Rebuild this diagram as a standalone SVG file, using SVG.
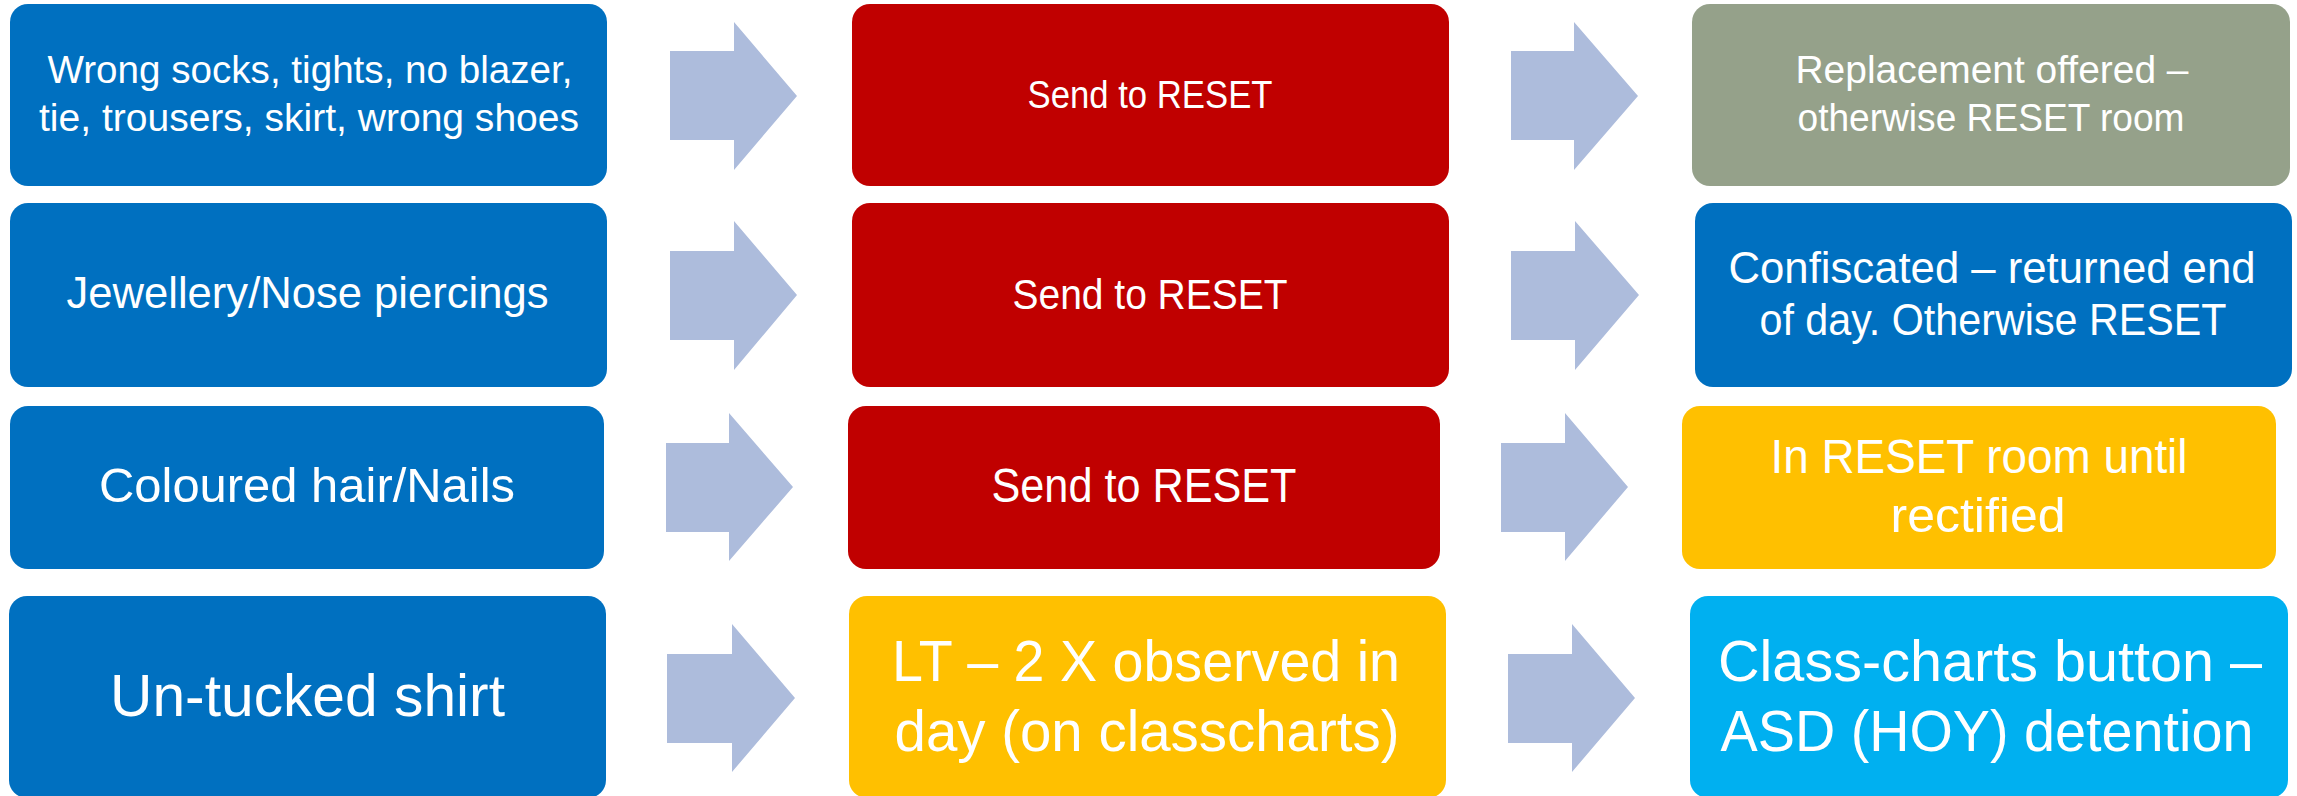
<svg xmlns="http://www.w3.org/2000/svg" width="2297" height="796" viewBox="0 0 2297 796">
<style>
.t{fill:#FFFFFF;font-family:"Liberation Sans",Arial,sans-serif;text-anchor:middle}
.blue{fill:#0070C0}
.red{fill:#C00000}
.gray{fill:#95A18A}
.yellow{fill:#FFC000}
.cyan{fill:#00B0F0}
.arrow{fill:#ADBCDC}
</style>
<rect width="2297" height="796" fill="#FFFFFF"/>
<g id="connectors">
<polygon class="arrow" points="670,51 734,51 734,22 797,96 734,170 734,140 670,140"/>
<polygon class="arrow" points="670,251 734,251 734,221 797,295 734,370 734,340 670,340"/>
<polygon class="arrow" points="1511,51 1574,51 1574,22 1638,96 1574,170 1574,140 1511,140"/>
<polygon class="arrow" points="1511,251 1575,251 1575,221 1639,295 1575,370 1575,340 1511,340"/>
<polygon class="arrow" points="666,443 729,443 729,413 793,487 729,561 729,532 666,532"/>
<polygon class="arrow" points="667,654 732,654 732,624 795,698 732,772 732,743 667,743"/>
<polygon class="arrow" points="1501,443 1565,443 1565,413 1628,487 1565,561 1565,532 1501,532"/>
<polygon class="arrow" points="1508,654 1572,654 1572,624 1635,698 1572,772 1572,743 1508,743"/>
</g>
<g id="n-socks">
<rect class="blue" x="10" y="4" width="597" height="182" rx="18"/>
<text class="t" x="310" y="83" font-size="38" textLength="525" lengthAdjust="spacingAndGlyphs">Wrong socks, tights, no blazer,</text>
<text class="t" x="309" y="131" font-size="38" textLength="540" lengthAdjust="spacingAndGlyphs">tie, trousers, skirt, wrong shoes</text>
</g>
<g id="n-jewellery">
<rect class="blue" x="10" y="203" width="597" height="184" rx="18"/>
<text class="t" x="307.5" y="308" font-size="45" textLength="482" lengthAdjust="spacingAndGlyphs">Jewellery/Nose piercings</text>
</g>
<g id="n-hair">
<rect class="blue" x="10" y="406" width="594" height="163" rx="18"/>
<text class="t" x="307" y="502" font-size="49" textLength="416" lengthAdjust="spacingAndGlyphs">Coloured hair/Nails</text>
</g>
<g id="n-shirt">
<rect class="blue" x="9" y="596" width="597" height="202" rx="18"/>
<text class="t" x="307.5" y="716" font-size="59" textLength="395" lengthAdjust="spacingAndGlyphs">Un-tucked shirt</text>
</g>
<g id="n-reset1">
<rect class="red" x="852" y="4" width="597" height="182" rx="18"/>
<text class="t" x="1150" y="108" font-size="39" textLength="245" lengthAdjust="spacingAndGlyphs">Send to RESET</text>
</g>
<g id="n-reset2">
<rect class="red" x="852" y="203" width="597" height="184" rx="18"/>
<text class="t" x="1150" y="309" font-size="43" textLength="275" lengthAdjust="spacingAndGlyphs">Send to RESET</text>
</g>
<g id="n-reset3">
<rect class="red" x="848" y="406" width="592" height="163" rx="18"/>
<text class="t" x="1144" y="502" font-size="48" textLength="305" lengthAdjust="spacingAndGlyphs">Send to RESET</text>
</g>
<g id="n-lt">
<rect class="yellow" x="849" y="596" width="597" height="202" rx="18"/>
<text class="t" x="1146" y="681" font-size="58" textLength="508" lengthAdjust="spacingAndGlyphs">LT – 2 X observed in</text>
<text class="t" x="1147" y="751" font-size="58" textLength="505" lengthAdjust="spacingAndGlyphs">day (on classcharts)</text>
</g>
<g id="n-replacement">
<rect class="gray" x="1692" y="4" width="598" height="182" rx="18"/>
<text class="t" x="1992" y="83" font-size="38" textLength="393" lengthAdjust="spacingAndGlyphs">Replacement offered –</text>
<text class="t" x="1991" y="131" font-size="38" textLength="387" lengthAdjust="spacingAndGlyphs">otherwise RESET room</text>
</g>
<g id="n-confiscated">
<rect class="blue" x="1695" y="203" width="597" height="184" rx="18"/>
<text class="t" x="1992" y="283" font-size="44" textLength="527" lengthAdjust="spacingAndGlyphs">Confiscated – returned end</text>
<text class="t" x="1993" y="335" font-size="44" textLength="467" lengthAdjust="spacingAndGlyphs">of day. Otherwise RESET</text>
</g>
<g id="n-rectified">
<rect class="yellow" x="1682" y="406" width="594" height="163" rx="18"/>
<text class="t" x="1979" y="473" font-size="48" textLength="417" lengthAdjust="spacingAndGlyphs">In RESET room until</text>
<text class="t" x="1978" y="532" font-size="48" textLength="175" lengthAdjust="spacingAndGlyphs">rectified</text>
</g>
<g id="n-classcharts">
<rect class="cyan" x="1690" y="596" width="598" height="202" rx="18"/>
<text class="t" x="1990" y="681" font-size="58" textLength="544" lengthAdjust="spacingAndGlyphs">Class-charts button –</text>
<text class="t" x="1987" y="751" font-size="58" textLength="533" lengthAdjust="spacingAndGlyphs">ASD (HOY) detention</text>
</g>
</svg>
